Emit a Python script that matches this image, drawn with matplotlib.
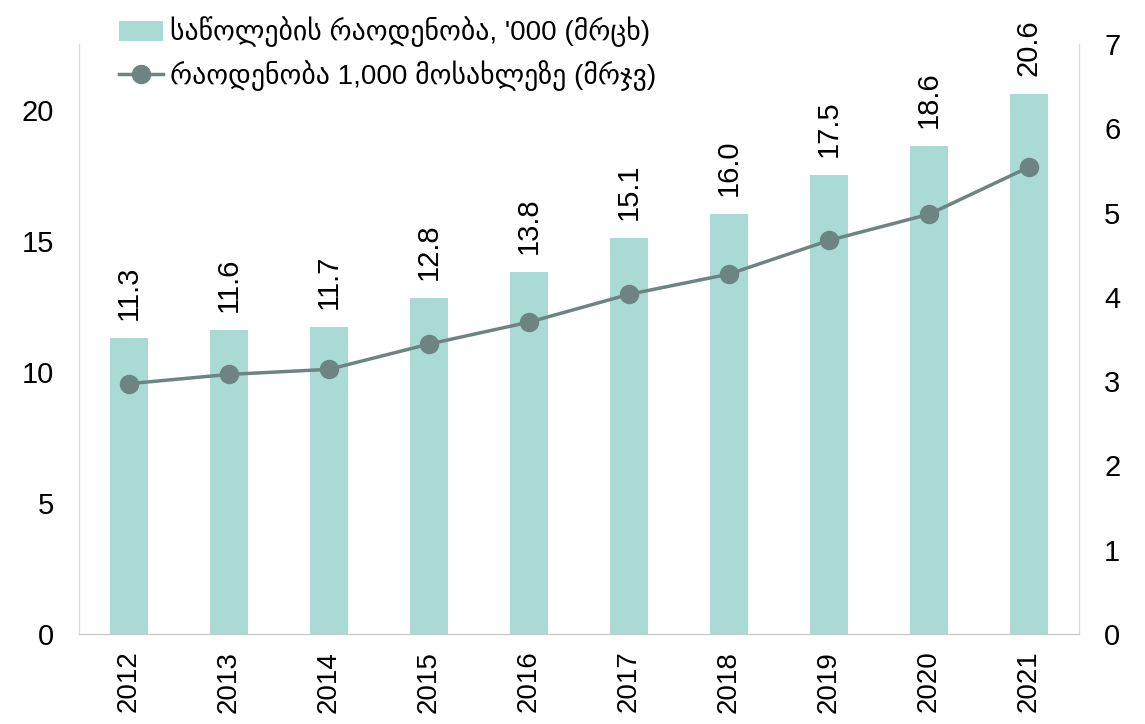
import matplotlib
matplotlib.use("Agg")
import matplotlib.pyplot as plt
import numpy as np

# Data
years = ["2012", "2013", "2014", "2015", "2016", "2017", "2018", "2019", "2020", "2021"]
births = [11.3, 11.6, 11.7, 12.8, 13.8, 15.1, 16.0, 17.5, 18.6, 20.6]
per_1000 = [2.97, 3.08, 3.14, 3.44, 3.70, 4.03, 4.27, 4.67, 4.98, 5.54]
bar_label = "საწოლების რაოდენობა, '000 (მრცხ)"
line_label = "რაოდენობა 1,000 მოსახლეზე (მრჯვ)"

BAR_COLOR = "#A9DBD4"
LINE_COLOR = "#6E8482"

plt.rcParams['font.family'] = ['Liberation Sans', 'DejaVu Sans']

fig = plt.figure(figsize=(11.45, 7.24), dpi=100)
ax = fig.add_axes([79 / 1145, 1 - 634 / 724, 1000 / 1145, 590 / 724])
ax2 = ax.twinx()

x = np.arange(len(years))
bars = ax.bar(x, births, width=0.38, color=BAR_COLOR, label=bar_label, zorder=2)
for xi, v in zip(x, births):
    ax.annotate(f"{v:.1f}", (xi, v), xytext=(0, 13), textcoords="offset points",
                rotation=90, ha="center", va="bottom", fontsize=21)

line, = ax2.plot(x, per_1000, color=LINE_COLOR, lw=2.5, marker="o", ms=13,
                 label=line_label, zorder=3)

ax.set_xlim(-0.5, len(years) - 0.5)
ax.set_ylim(0, 22.5)
ax.set_yticks([0, 5, 10, 15, 20])
ax2.set_ylim(0, 7)
ax2.set_yticks(range(0, 8))

ax.set_xticks(x)
ax.set_xticklabels(years, rotation=90, fontsize=20)
ax.tick_params(axis="x", length=0, pad=12)
ax.tick_params(axis="y", length=0, pad=18, labelsize=21)
ax2.tick_params(axis="y", length=0, pad=18, labelsize=21)

for a in (ax, ax2):
    a.spines["top"].set_visible(False)
    a.spines["left"].set_color("#D9D9D9")
    a.spines["right"].set_color("#D9D9D9")
    a.spines["bottom"].set_color("#C8C8C8")

fig.legend([bars, line], [bar_label, line_label], loc="upper left",
           bbox_to_anchor=(102 / 1145, 1.0), frameon=False, fontsize=20,
           handlelength=1.6, handletextpad=0.25, labelspacing=0.45,
           borderaxespad=0.2)

fig.savefig("out.png", dpi=100)
